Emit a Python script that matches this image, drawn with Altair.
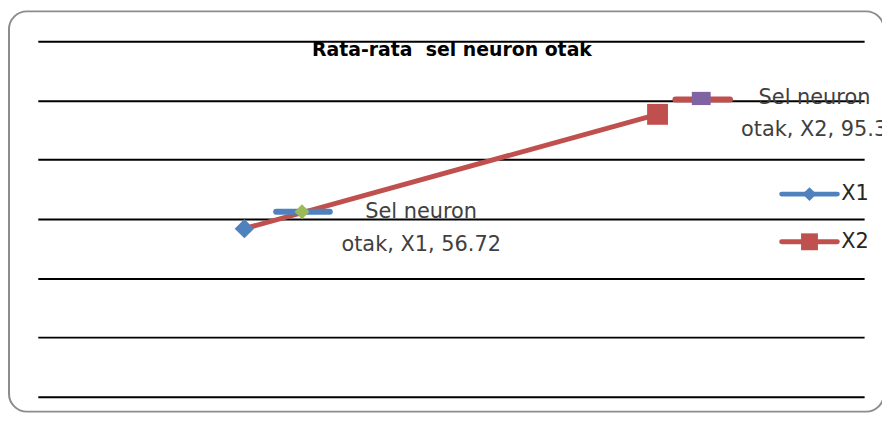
import altair as alt
import pandas as pd

# ---- data ----
series = ["X1", "X2"]
values = [56.72, 95.3]
label_top = "Sel neuron"
label_word = "otak"
title_text = "Rata-rata\u00a0 sel neuron otak"
grid_values = [0, 20, 40, 60, 80, 100, 120]

# ---- style ----
BLUE, RED, GREEN, PURPLE = "#4F81BD", "#C0504D", "#9BBB59", "#8064A2"
FONT = "DejaVu Sans"
RECT_PATH = "M-1,-0.7L1,-0.7L1,0.7L-1,0.7Z"

df = pd.DataFrame({"series": series, "value": values})
df["line1"] = label_top
df["line2"] = [f"{label_word}, {s}, {v:g}" for s, v in zip(series, values)]

x_enc = alt.X("series:N", scale=alt.Scale(type="point", padding=0.5, domain=series), axis=None)
y_enc = alt.Y(
    "value:Q",
    scale=alt.Scale(domain=[0, 120], nice=False, zero=True),
    axis=alt.Axis(values=grid_values, grid=True, gridColor="black", gridWidth=2,
                  labels=False, ticks=False, domain=False, title=None),
)

one = pd.DataFrame({"t": [title_text]})

frame = alt.Chart(one).mark_rect(
    fill="white", fillOpacity=0, stroke="#8C8C8C", strokeWidth=2, cornerRadius=18
).encode(x=alt.value(-29), x2=alt.value(852), y=alt.value(-30), y2=alt.value(373))

title = alt.Chart(one).mark_text(
    font=FONT, fontSize=19, fontWeight="bold", color="black", align="center", baseline="middle"
).encode(x=alt.value(417), y=alt.value(9), text="t:N")

base = alt.Chart(df).encode(x=x_enc, y=y_enc)

main_line = base.mark_line(color=RED, strokeWidth=5)
main_pts = base.mark_point(filled=True, opacity=1).encode(
    color=alt.Color("series:N", scale=alt.Scale(domain=series, range=[BLUE, RED]), legend=None),
    shape=alt.Shape("series:N", scale=alt.Scale(domain=series, range=["diamond", "square"]), legend=None),
    size=alt.Size("series:N", scale=alt.Scale(domain=series, range=[380, 441]), legend=None),
)

layers = [frame, main_line, main_pts]

# label keys and labels (offsets relative to each data point)
key_style = {
    "X1": dict(l0=32, l1=86, ly=-17, px=58, py=-17, shape="diamond", size=225,
               lc=BLUE, pc=GREEN, t1dx=178, t1dy=-17, t2dx=178, t2dy=16, t2align="center"),
    "X2": dict(l0=18, l1=73, ly=-15, px=44, py=-16, shape=RECT_PATH, size=361,
               lc=RED, pc=PURPLE, t1dx=158, t1dy=-16, t2dx=84, t2dy=16, t2align="left"),
}
for s in series:
    st = key_style[s]
    b = base.transform_filter(alt.datum.series == s)
    layers.append(
        b.mark_rule(strokeWidth=6, strokeCap="round", color=st["lc"],
                    xOffset=st["l0"], x2Offset=st["l1"], yOffset=st["ly"]).encode(x2=alt.X2("series:N"))
    )
    layers.append(
        b.mark_point(filled=True, opacity=1, shape=st["shape"], size=st["size"], color=st["pc"],
                     xOffset=st["px"], yOffset=st["py"])
    )
    layers.append(
        b.mark_text(font=FONT, fontSize=21, color="#404040", align="center", baseline="middle",
                    dx=st["t1dx"], dy=st["t1dy"]).encode(text="line1:N")
    )
    layers.append(
        b.mark_text(font=FONT, fontSize=21, color="#404040", align=st["t2align"], baseline="middle",
                    dx=st["t2dx"], dy=st["t2dy"]).encode(text="line2:N")
    )

# legend
leg_df = pd.DataFrame({"series": series})
leg_style = {"X1": (BLUE, "diamond", 196), "X2": (RED, "square", 289)}
for i, s in enumerate(series):
    col, shp, sz = leg_style[s]
    yy = 154 + 48 * i
    lb = alt.Chart(leg_df).transform_filter(alt.datum.series == s)
    layers.append(lb.mark_rule(strokeWidth=5, strokeCap="round", color=col).encode(
        x=alt.value(749), x2=alt.value(805), y=alt.value(yy)))
    layers.append(lb.mark_point(filled=True, opacity=1, shape=shp, size=sz, color=col).encode(
        x=alt.value(777), y=alt.value(yy)))
    layers.append(lb.mark_text(font=FONT, fontSize=21, color="#262626", align="left", baseline="middle").encode(
        x=alt.value(809), y=alt.value(yy), text="series:N"))

layers.append(title)

chart = alt.layer(*layers).properties(
    width=832, height=358,
    autosize=alt.AutoSizeParams(type="none"),
    padding={"left": 30, "top": 32, "right": 18, "bottom": 16},
    background="white",
).configure_view(stroke=None)

chart.save("out.html", embed_options={"renderer": "svg", "actions": False})
